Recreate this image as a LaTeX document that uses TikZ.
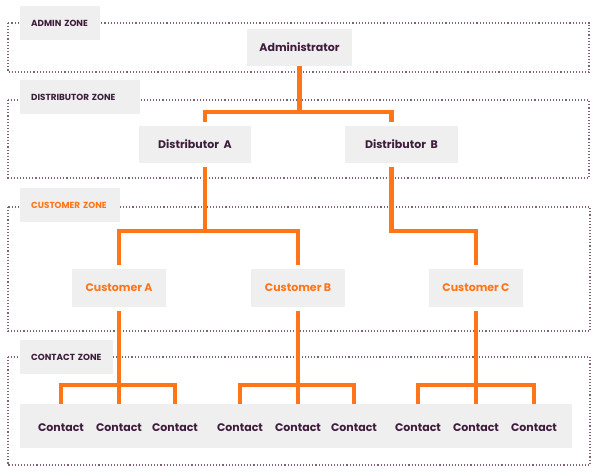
\documentclass[tikz,border=0pt]{standalone}
\usepackage{fontspec}
\setmainfont{Poppins}
\usepackage{tikz}
\usetikzlibrary{positioning,calc}
\definecolor{zorange}{RGB}{255,117,24}
\definecolor{zplum}{RGB}{62,28,60}
\definecolor{zgray}{RGB}{239,239,239}
\definecolor{zdots}{RGB}{125,98,120}

\tikzset{
  zone/.style={draw=zdots, line width=1.2pt, dash pattern=on 1.1pt off 2pt},
  zonetag/.style={fill=zgray, text=zplum, font=\fontsize{8.8}{10}\selectfont\bfseries,
    anchor=west, align=left, minimum height=34pt, inner ysep=0pt, inner xsep=11pt},
  rolebox/.style={fill=zgray, text=zplum, font=\fontsize{11}{13}\selectfont\bfseries,
    minimum height=37pt, inner sep=0pt},
  custbox/.style={rolebox, text=zorange, minimum width=94pt, minimum height=38pt},
  contact/.style={text=zplum, font=\fontsize{11}{13}\selectfont\bfseries,
    minimum height=48pt, inner sep=0pt},
  wire/.style={draw=zorange, line width=4.5pt},
}

\begin{document}
\begin{tikzpicture}[x=1pt,y=-1pt]
  \useasboundingbox (0,0) rectangle (600,476);
  % zones
  \draw[zone] (8,23) rectangle (589,72);
  \draw[zone] (8,100) rectangle (589,178);
  \draw[zone] (8,207) rectangle (590,331);
  \draw[zone] (8,357) rectangle (590,465);
  \node[zonetag, text width=58pt] (tagadmin) at (20,23) {ADMIN ZONE};
  \node[zonetag, text width=98pt] (tagdist) at (20,97) {DISTRIBUTOR ZONE};
  \node[zonetag, text width=78pt, text=zorange] (tagcust) at (20,205) {CUSTOMER ZONE};
  \node[zonetag, text width=71pt] (tagcont) at (20,357) {CONTACT ZONE};

  % roles
  \node[rolebox, minimum width=105pt] (admin) at (299.5,47.5) {Administrator};
  \node[rolebox, minimum width=112pt] (distA) at (195,144.5) {Distributor\ \ A};
  \node[rolebox, minimum width=113pt] (distB) at (401.5,144.5) {Distributor\ \ B};
  \node[custbox] (custA) at (119,288) {Customer A};
  \node[custbox] (custB) at (298,288) {Customer B};
  \node[custbox] (custC) at (476,288) {Customer C};

  % contacts on one band
  \fill[zgray] (20,404) rectangle (572,448);
  \node[contact] (c1) at (61,428) {Contact};
  \node[contact] (c2) at (119,428) {Contact};
  \node[contact] (c3) at (175,428) {Contact};
  \node[contact] (c4) at (240,428) {Contact};
  \node[contact] (c5) at (298,428) {Contact};
  \node[contact] (c6) at (354,428) {Contact};
  \node[contact] (c7) at (418,428) {Contact};
  \node[contact] (c8) at (476,428) {Contact};
  \node[contact] (c9) at (534,428) {Contact};

  % bus levels and offset trunks
  \coordinate (busAD) at (0,112);
  \coordinate (busDC) at (0,231);
  \coordinate (busCC) at (0,385);
  \coordinate (topA) at ([xshift=10pt]distA.north);
  \coordinate (topB) at ([xshift=-10pt]distB.north);
  \coordinate (botA) at ([xshift=10pt]distA.south);
  \coordinate (botB) at ([xshift=-10pt]distB.south);

  % admin -> distributors
  \draw[wire] (admin.south) -- (admin.south |- busAD);
  \draw[wire, shorten <=4pt, shorten >=4pt] (topA) |- (admin.south |- busAD) -| (topB);

  % distributors -> customers
  \draw[wire, shorten <=4pt] (botA) -- (botA |- busDC);
  \draw[wire, shorten <=4pt, shorten >=4pt] (custA.north) |- (botA |- busDC) -| (custB.north);
  \draw[wire, shorten <=4pt, shorten >=4pt] (botB) -- (botB |- busDC) -| (custC.north);

  % customers -> contacts
  \draw[wire, shorten <=4pt] (custA.south) -- (c2.north);
  \draw[wire] (c1.north) |- (custA.south |- busCC) -| (c3.north);
  \draw[wire, shorten <=4pt] (custB.south) -- (c5.north);
  \draw[wire] (c4.north) |- (custB.south |- busCC) -| (c6.north);
  \draw[wire, shorten <=4pt] (custC.south) -- (c8.north);
  \draw[wire] (c7.north) |- (custC.south |- busCC) -| (c9.north);
\end{tikzpicture}
\end{document}
